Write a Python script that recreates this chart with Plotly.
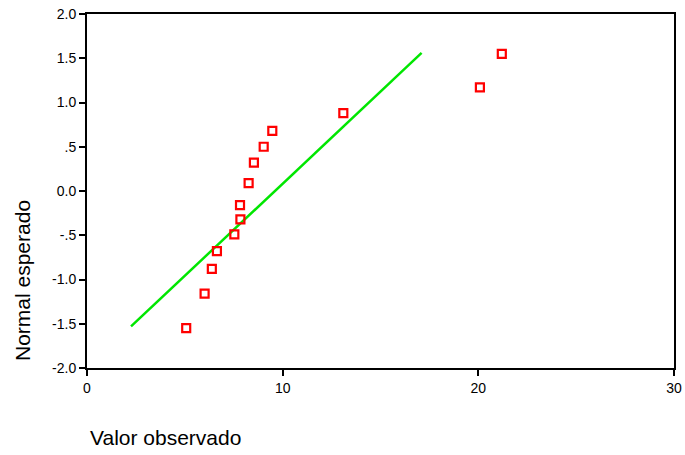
import plotly.graph_objects as go

# Data (normal Q-Q plot)
observed = [5.07, 6.01, 6.38, 6.64, 7.53, 7.84, 7.82, 8.26, 8.53, 9.03, 9.47, 13.10, 20.08, 21.20]
expected = [-1.55, -1.16, -0.88, -0.68, -0.49, -0.32, -0.16, 0.09, 0.32, 0.50, 0.68, 0.88, 1.17, 1.55]

line_x = [2.25, 17.10]
line_y = [-1.53, 1.56]

x_tickvals = [0, 10, 20, 30]
x_ticktext = ["0", "10", "20", "30"]
y_tickvals = [-2.0, -1.5, -1.0, -0.5, 0.0, 0.5, 1.0, 1.5, 2.0]
y_ticktext = ["-2.0", "-1.5", "-1.0", "-.5", "0.0", ".5", "1.0", "1.5", "2.0"]

x_title = "Valor observado"
y_title = "Normal esperado"

W, H = 685, 455
ml, mr, mt, mb = 87, 11, 14, 87
pw = W - ml - mr
ph = H - mt - mb

fig = go.Figure()
fig.add_trace(go.Scatter(
    x=line_x, y=line_y, mode="lines",
    line=dict(color="rgb(0,230,0)", width=2.5),
    showlegend=False, hoverinfo="skip"))
fig.add_trace(go.Scatter(
    x=observed, y=expected, mode="markers",
    marker=dict(symbol="square-open", size=8, color="rgb(255,0,0)",
                line=dict(color="rgb(255,0,0)", width=2.2)),
    showlegend=False))

axis_font = dict(family="Liberation Sans, Arial, sans-serif", size=14, color="black")
title_font = dict(family="Liberation Sans, Arial, sans-serif", size=21, color="black")

fig.update_layout(
    width=W, height=H,
    margin=dict(l=ml, r=mr, t=mt, b=mb, pad=0, autoexpand=False),
    paper_bgcolor="white", plot_bgcolor="white",
    font=dict(family="Liberation Sans, Arial, sans-serif", color="black"),
    xaxis=dict(range=[0, 30], tickvals=x_tickvals, ticktext=x_ticktext,
               automargin=False,
               showgrid=False, zeroline=False, showline=True, mirror=True,
               linecolor="black", linewidth=2, ticks="outside", ticklen=6,
               tickwidth=2, tickcolor="black", tickfont=axis_font),
    yaxis=dict(range=[-2, 2], tickvals=y_tickvals, ticktext=y_ticktext,
               automargin=False,
               showgrid=False, zeroline=False, showline=True, mirror=True,
               linecolor="black", linewidth=2, ticks="outside", ticklen=6,
               tickwidth=2, tickcolor="black", tickfont=axis_font),
    annotations=[
        dict(text=x_title, xref="paper", yref="paper",
             x=(88 - ml) / pw, y=(H - mb - 437) / ph,
             xanchor="left", yanchor="middle", showarrow=False,
             font=title_font),
        dict(text=y_title, xref="paper", yref="paper",
             x=(22 - ml) / pw, y=(H - mb - 281) / ph, textangle=-90,
             xanchor="center", yanchor="middle", showarrow=False,
             font=title_font),
    ],
)

fig.write_html("out.html", config={"displayModeBar": False},
               post_script="document.body.style.margin='0';document.body.style.overflow='hidden';")
